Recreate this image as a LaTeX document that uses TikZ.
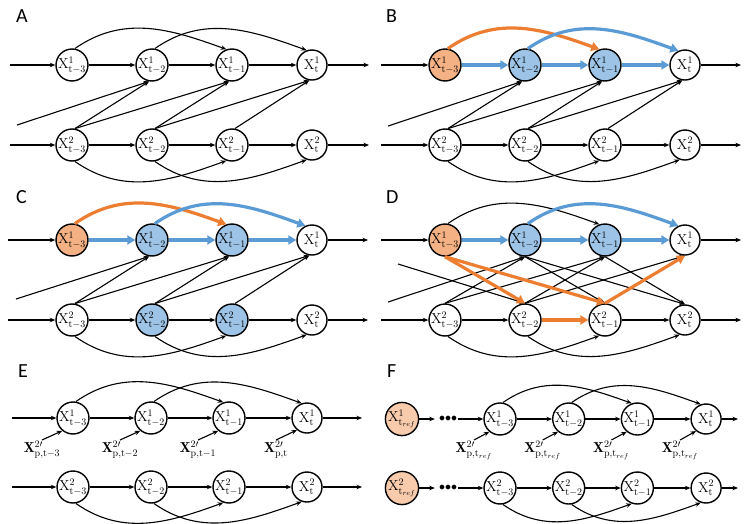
\documentclass[tikz,border=0pt]{standalone}
\usepackage{fontspec}
\newfontfamily\panelfont{Carlito}
\usepackage{tikz}
\usetikzlibrary{arrows.meta, positioning}
\definecolor{orgfill}{HTML}{F4B183}
\definecolor{lorgfill}{HTML}{F8CBAD}
\definecolor{blufill}{HTML}{9DC3E6}
\definecolor{orgline}{HTML}{ED7D31}
\definecolor{bluline}{HTML}{5B9BD5}
\tikzset{
  xnode/.style  = {circle, draw, line width=1.4pt, fill=white, inner sep=0pt,
                   minimum size=30pt, font=\fontsize{14.4}{16}\selectfont},
  onode/.style  = {xnode, fill=orgfill},
  bnode/.style  = {xnode, fill=blufill},
  arr/.style    = {-{Stealth[length=5.5pt, width=4.5pt]}, line width=1.1pt},
  barr/.style   = {-{Triangle[length=8pt, width=9pt]}, line width=3.2pt, draw=bluline},
  oarr/.style   = {-{Triangle[length=8pt, width=9pt]}, line width=3.2pt, draw=orgline},
  upc/.style    = {out=35, in=160},
  dnc/.style    = {out=-35, in=-160},
  plbl/.style   = {font=\panelfont\fontsize{20}{22}\selectfont, anchor=base west, inner sep=0pt},
  plab/.style   = {font=\fontsize{14.4}{16}\selectfont, inner sep=1pt},
  dotnode/.style= {inner sep=1pt, font=\fontsize{12}{14}\selectfont},
}
\newcommand{\xl}[2]{$\mathrm{X}^{#1}_{\mathrm{#2}}$}

\begin{document}
\begin{tikzpicture}[x=1pt, y=-1pt]
  \useasboundingbox (0,0) rectangle (747,523);

  % panel letters
  \node[plbl] (labA) at (16,22)  {A};
  \node[plbl] (labB) at (386,22) {B};
  \node[plbl] (labC) at (16,203) {C};
  \node[plbl] (labD) at (386,203) {D};
  \node[plbl] (labE) at (18,377) {E};
  \node[plbl] (labF) at (387,377) {F};

  % ---- A ----
  \foreach \i/\s in {1/t-3,2/t-2,3/t-1,4/t}{
    \node[xnode] (A1\i) at ({72+80*(\i-1)},65)  {\xl{1}{\s}};
    \node[xnode] (A2\i) at ({72+80*(\i-1)},145) {\xl{2}{\s}};
  }
  \coordinate (A1in) at (10,65);   \coordinate (A1out) at (369,65);
  \coordinate (A2in) at (10,145);  \coordinate (A2out) at (369,145);
  \coordinate (Aleft) at (17,125);
  \draw[arr] (A1in) -- (A11);
  \draw[arr] (A2in) -- (A21);
  \draw[arr] (A14) -- (A1out);
  \draw[arr] (A24) -- (A2out);
  \foreach \i/\j in {1/2,2/3,3/4}{
    \draw[arr] (A1\i) -- (A1\j);
    \draw[arr] (A2\i) -- (A2\j);
  }
  \foreach \i/\j in {1/3,2/4}{
    \draw[arr] (A1\i.80) to[upc] (A1\j.110);
    \draw[arr] (A2\i.-80) to[dnc] (A2\j.-110);
  }
  \draw[arr] (Aleft) -- (A12.-100);
  \foreach \i/\j in {1/2,1/3,2/3,2/4,3/4}
    \draw[arr] (A2\i.80) -- (A1\j.-100);

  % ---- B ----
  \begin{scope}[shift={(373,0)}]
    \foreach \i/\s/\st in {1/t-3/onode,2/t-2/bnode,3/t-1/bnode,4/t/xnode}{
      \node[\st]   (B1\i) at ({72+80*(\i-1)},65)  {\xl{1}{\s}};
      \node[xnode] (B2\i) at ({72+80*(\i-1)},145) {\xl{2}{\s}};
    }
    \coordinate (B1in) at (8,65);   \coordinate (B1out) at (368,65);
    \coordinate (B2in) at (8,145);  \coordinate (B2out) at (368,145);
    \coordinate (Bleft) at (15,126);
    \draw[arr] (B1in) -- (B11);
    \draw[arr] (B2in) -- (B21);
    \draw[arr] (B14) -- (B1out);
    \draw[arr] (B24) -- (B2out);
    \foreach \i/\j in {1/2,2/3,3/4}{
      \draw[barr] (B1\i) -- (B1\j);
      \draw[arr] (B2\i) -- (B2\j);
    }
    \draw[oarr] (B11.80) to[upc] (B13.110);
    \draw[barr] (B12.80) to[upc] (B14.115);
    \foreach \i/\j in {1/3,2/4}
      \draw[arr] (B2\i.-80) to[dnc] (B2\j.-110);
    \draw[arr] (Bleft) -- (B12.-100);
    \foreach \i/\j in {1/2,1/3,2/3,2/4,3/4}
      \draw[arr] (B2\i.80) -- (B1\j.-100);
  \end{scope}

  % ---- C ----
  \begin{scope}[shift={(0,175)}]
    \foreach \i/\s/\st/\su in {1/t-3/onode/xnode,2/t-2/bnode/bnode,3/t-1/bnode/bnode,4/t/xnode/xnode}{
      \node[\st] (C1\i) at ({72+80*(\i-1)},65)  {\xl{1}{\s}};
      \node[\su] (C2\i) at ({72+80*(\i-1)},145) {\xl{2}{\s}};
    }
    \coordinate (C1in) at (8,65);   \coordinate (C1out) at (368,65);
    \coordinate (C2in) at (8,145);  \coordinate (C2out) at (368,145);
    \coordinate (Cleft) at (16,124);
    \draw[arr] (C1in) -- (C11);
    \draw[arr] (C2in) -- (C21);
    \draw[arr] (C14) -- (C1out);
    \draw[arr] (C24) -- (C2out);
    \foreach \i/\j in {1/2,2/3,3/4}{
      \draw[barr] (C1\i) -- (C1\j);
      \draw[arr] (C2\i) -- (C2\j);
    }
    \draw[oarr] (C11.80) to[upc] (C13.110);
    \draw[barr] (C12.80) to[upc] (C14.115);
    \foreach \i/\j in {1/3,2/4}
      \draw[arr] (C2\i.-80) to[dnc] (C2\j.-110);
    \draw[arr] (Cleft) -- (C12.-100);
    \foreach \i/\j in {1/2,1/3,2/3,2/4,3/4}
      \draw[arr] (C2\i.80) -- (C1\j.-100);
  \end{scope}

  % ---- D ----
  \begin{scope}[shift={(373,175)}]
    \foreach \i/\s/\st in {1/t-3/onode,2/t-2/bnode,3/t-1/bnode,4/t/xnode}{
      \node[\st]   (D1\i) at ({72+80*(\i-1)},65)  {\xl{1}{\s}};
      \node[xnode] (D2\i) at ({72+80*(\i-1)},145) {\xl{2}{\s}};
    }
    \coordinate (D1in) at (8,65);   \coordinate (D1out) at (368,65);
    \coordinate (D2in) at (8,145);  \coordinate (D2out) at (368,145);
    \coordinate (Dleft) at (15,127);
    \coordinate (Dleft2) at (25,89);
    \draw[arr] (D1in) -- (D11);
    \draw[arr] (D2in) -- (D21);
    \draw[arr] (D14) -- (D1out);
    \draw[arr] (D24) -- (D2out);
    \foreach \i/\j in {1/2,2/3,3/4}
      \draw[barr] (D1\i) -- (D1\j);
    \draw[arr] (D21) -- (D22);
    \draw[arr] (D23) -- (D24);
    \draw[arr] (D11.80) to[upc] (D13.110);
    \draw[barr] (D12.80) to[upc] (D14.115);
    \foreach \i/\j in {1/3,2/4}
      \draw[arr] (D2\i.-80) to[dnc] (D2\j.-110);
    \draw[arr] (Dleft) -- (D12.-90);
    \draw[arr] (Dleft2) -- (D22.90);
    \foreach \i/\j in {1/2,1/3,2/3,2/4}
      \draw[arr] (D2\i.90) -- (D1\j.-90);
    \foreach \i/\j in {2/3,2/4,3/4}
      \draw[arr] (D1\i.-90) -- (D2\j.90);
    % highlighted paths
    \draw[oarr] (D11.-90) -- (D22.90);
    \draw[oarr] (D11.-90) -- (D23.90);
    \draw[oarr] (D22) -- (D23);
    \draw[oarr] (D23.90) -- (D14.-90);
  \end{scope}

  % ---- E ----
  \foreach \i/\s in {1/t-3,2/t-2,3/t-1,4/t}{
    \node[xnode] (E1\i) at ({73+78*(\i-1)},418) {\xl{1}{\s}};
    \node[xnode] (E2\i) at ({73+78*(\i-1)},487) {\xl{2}{\s}};
    \node[plab, anchor=north] (Ep\i) at ({42+78*(\i-1)},440)
      {$\mathbf{X}^{2\prime}_{\mathrm{p{,}\s}}$};
    \draw[arr] (Ep\i.north) -- (E1\i.-130);
  }
  \coordinate (E1in) at (12,418);  \coordinate (E1out) at (362,418);
  \coordinate (E2in) at (12,487);  \coordinate (E2out) at (362,487);
  \draw[arr] (E1in) -- (E11);
  \draw[arr] (E2in) -- (E21);
  \draw[arr] (E14) -- (E1out);
  \draw[arr] (E24) -- (E2out);
  \foreach \i/\j in {1/2,2/3,3/4}{
    \draw[arr] (E1\i) -- (E1\j);
    \draw[arr] (E2\i) -- (E2\j);
  }
  \foreach \i/\j in {1/3,2/4}{
    \draw[arr] (E1\i.80) to[upc] (E1\j.110);
    \draw[arr] (E2\i.-80) to[dnc] (E2\j.-110);
  }

  % ---- F ----
  \node[onode, fill=lorgfill, minimum size=28pt] (F1r) at (402,419) {$\mathrm{X}^1_{\mathrm{t}_{ref}}$};
  \node[onode, fill=lorgfill, minimum size=28pt] (F2r) at (402,488) {$\mathrm{X}^2_{\mathrm{t}_{ref}}$};
  \node[dotnode] (F1d) at (448,419) {${\bullet}{\bullet}{\bullet}$};
  \node[dotnode] (F2d) at (448,488) {${\bullet}{\bullet}{\bullet}$};
  \foreach \i/\s in {1/t-3,2/t-2,3/t-1,4/t}{
    \node[xnode] (F1\i) at ({500+68.7*(\i-1)},419) {\xl{1}{\s}};
    \node[xnode] (F2\i) at ({500+68.7*(\i-1)},488) {\xl{2}{\s}};
    \node[plab, anchor=north] (Fp\i) at ({474+68.7*(\i-1)},440)
      {$\mathbf{X}^{2\prime}_{\mathrm{p{,}t}_{ref}}$};
    \draw[arr] (Fp\i.north) -- (F1\i.-130);
  }
  \coordinate (F1out) at (738,419);
  \coordinate (F2out) at (738,488);
  \draw[arr, shorten >=3pt] (F1r) -- (F1d);
  \draw[arr, shorten >=3pt] (F2r) -- (F2d);
  \draw[arr] (F1d) -- (F11);
  \draw[arr] (F2d) -- (F21);
  \draw[arr] (F14) -- (F1out);
  \draw[arr] (F24) -- (F2out);
  \foreach \i/\j in {1/2,2/3,3/4}{
    \draw[arr] (F1\i) -- (F1\j);
    \draw[arr] (F2\i) -- (F2\j);
  }
  \foreach \i/\j in {1/3,2/4}{
    \draw[arr] (F1\i.80) to[upc] (F1\j.110);
    \draw[arr] (F2\i.-80) to[dnc] (F2\j.-110);
  }
\end{tikzpicture}
\end{document}
